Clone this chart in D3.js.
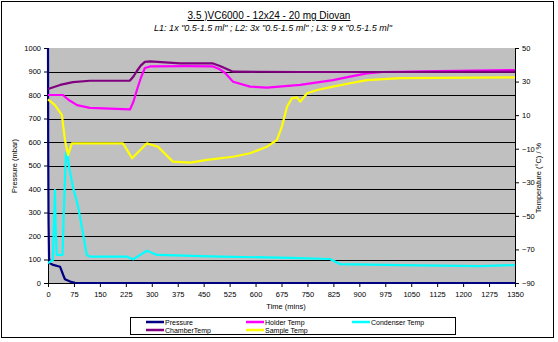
<!DOCTYPE html>
<html><head><meta charset="utf-8">
<script src="https://cdn.jsdelivr.net/npm/d3@7"></script>
<style>body{margin:0;background:#fff}svg{display:block;font-family:"Liberation Sans",Arial,sans-serif}</style>
</head><body><svg id="c" width="558" height="342"></svg>
<script>
const titleText = "3.5 )VC6000 - 12x24 - 20 mg Diovan";
const subtitleText = 'L1: 1x "0.5-1.5 ml" ; L2: 3x "0.5-1.5 ml" ; L3: 9 x "0.5-1.5 ml"';
const timeTicks = [0,75,150,225,300,375,450,525,600,675,750,825,900,975,1050,1125,1200,1275,1350];
const pressureTicks = [0,100,200,300,400,500,600,700,800,900,1000];
const tempTicks = [-90,-70,-50,-30,-10,10,30,50];
const seriesNames = ["Pressure","Holder Temp","Condenser Temp","ChamberTemp","Sample Temp"];
const seriesColors = ["#000080","#FF00FF","#00FFFF","#800080","#FFFF00"];

// Pressure (mbar, left axis)
const pressureTime   = [0,0.5,1.5,3,6,15,35,44,49,64,78,100,1350];
const pressureValues = [1000,600,268,106,84,77,69,34,16,6,1,0,0];

// Temperatures (°C, right axis)
const holderTime   = [0,43,60,84,121,237,247,257,268,280,295,400,477,495,512,535,584,633,729,824,873,922,968,1133,1350];
const holderValues = [22,22,19,16,14.3,13.4,18,25,32,38.1,39,39.2,39,37.5,35.1,29.9,27,26.4,28,30.9,32.9,34.9,35.7,36.3,36.9];

const condenserTime   = [0,14,18,20,22,25,42,47,52,55,62,72,87,101,112,121,228,246,286,315,497,700,815,844,1018,1249,1350];
const condenserValues = [-78.2,-76.3,-50,-34.6,-55,-73.3,-73.3,-40,-12.7,-12,-22,-32.6,-44.5,-60.2,-73.3,-74.3,-74.3,-75.9,-70.8,-73.3,-74.3,-75,-75.7,-78.7,-79.3,-79.9,-79.3];

const chamberTime   = [0,35,72,121,237,247,257,268,280,295,382,477,497,535,729,1018,1350];
const chamberValues = [25.6,28,29.7,30.5,30.6,33,36.3,39.5,41.7,42,40.8,40.8,39.3,35.9,35.7,35.7,35.9];

const sampleTime   = [0,20,40,49,58,69,93,217,243,286,318,361,411,460,535,584,633,662,676,691,705,720,729,749,778,824,873,922,1018,1350];
const sampleValues = [19.4,16,10.1,-4.8,-13.7,-6.8,-6.8,-6.8,-15.7,-6.8,-8.8,-17.7,-18.3,-16.7,-14.8,-12.7,-8.8,-4.8,3.1,15,20,20.6,18,23,25,27,29,30.9,32,32.5];

const svg = d3.select("#c");
const x = d3.scaleLinear().domain([0,1350]).range([48,515]);
const yL = d3.scaleLinear().domain([0,1000]).range([283,48]);
const yR = d3.scaleLinear().domain([-90,50]).range([283,48]);
const fmt = d3.format("d");

// outer frame
svg.append("rect").attr("x",1.5).attr("y",1.5).attr("width",552).attr("height",336)
  .attr("fill","#fff").attr("stroke","#000").attr("stroke-width",1);

// plot background
svg.append("rect").attr("x",x(0)).attr("y",yL(1000)).attr("width",x(1350)-x(0)).attr("height",yL(0)-yL(1000))
  .attr("fill","#C0C0C0");

// gridlines
svg.append("g").selectAll("line").data(pressureTicks.filter(d=>d>0 && d<1000)).join("line")
  .attr("x1",x(0)).attr("x2",x(1350)).attr("y1",d=>Math.round(yL(d))+0.5).attr("y2",d=>Math.round(yL(d))+0.5)
  .attr("stroke","#000").attr("stroke-width",1);

function styleAxis(g){
  g.selectAll(".domain").attr("stroke","#000");
  g.selectAll(".tick line").attr("stroke","#000");
  g.selectAll("text").attr("font-size","7.5px").attr("fill","#000");
}

// axes
svg.append("g").attr("transform",`translate(0,${yL(0)})`)
  .call(d3.axisBottom(x).tickValues(timeTicks).tickFormat(fmt).tickSize(4).tickSizeOuter(0).tickPadding(5))
  .call(styleAxis);
svg.append("g").attr("transform",`translate(${x(0)},0)`)
  .call(d3.axisLeft(yL).tickValues(pressureTicks).tickFormat(fmt).tickSize(4).tickSizeOuter(0).tickPadding(3))
  .call(styleAxis);
svg.append("g").attr("transform",`translate(${x(1350)},0)`)
  .call(d3.axisRight(yR).tickValues(tempTicks).tickFormat(fmt).tickSize(4).tickSizeOuter(0).tickPadding(3))
  .call(styleAxis);

// series
const seriesData = [
  {t:pressureTime, v:pressureValues, y:yL},
  {t:holderTime, v:holderValues, y:yR},
  {t:condenserTime, v:condenserValues, y:yR},
  {t:chamberTime, v:chamberValues, y:yR},
  {t:sampleTime, v:sampleValues, y:yR}
];
svg.append("clipPath").attr("id","pc").append("rect")
  .attr("x",x(0)-2).attr("y",yL(1000)-2).attr("width",x(1350)-x(0)+4).attr("height",yL(0)-yL(1000)+3);
seriesData.forEach((s,i)=>{
  const pts = s.t.map((t,j)=>[t,s.v[j]]);
  const line = d3.line().x(d=>x(d[0])).y(d=>s.y(d[1]));
  svg.append("path").datum(pts).attr("d",line).attr("fill","none")
    .attr("stroke",seriesColors[i]).attr("stroke-width",2.2).attr("stroke-linejoin","round")
    .attr("clip-path","url(#pc)");
});

// titles
svg.append("text").attr("x",269).attr("y",19).attr("text-anchor","middle").attr("font-size","10px")
  .attr("text-decoration","underline").text(titleText);
svg.append("text").attr("x",273).attr("y",31).attr("text-anchor","middle").attr("font-size","9px")
  .attr("font-style","italic").text(subtitleText);
svg.append("text").attr("x",286).attr("y",309).attr("text-anchor","middle").attr("font-size","7.5px").text("Time (mins)");
svg.append("text").attr("transform","translate(17,166) rotate(-90)").attr("text-anchor","middle").attr("font-size","7.5px").text("Pressure (mbar)");
svg.append("text").attr("transform","translate(541,178) rotate(-90)").attr("text-anchor","middle").attr("font-size","7.5px").text("Temperature (°C) / %");

// legend
const lg = svg.append("g");
lg.append("rect").attr("x",130.5).attr("y",317.5).attr("width",325).attr("height",17).attr("fill","#fff").attr("stroke","#000");
const colX = [146,246,352], rowY = [322,330];
seriesNames.forEach((n,i)=>{
  const cx = colX[i%3], cy = rowY[Math.floor(i/3)];
  lg.append("line").attr("x1",cx).attr("x2",cx+18).attr("y1",cy).attr("y2",cy).attr("stroke",seriesColors[i]).attr("stroke-width",2.5);
  lg.append("text").attr("x",cx+19).attr("y",cy+2.5).attr("font-size","7px").text(n);
});
</script></body></html>
